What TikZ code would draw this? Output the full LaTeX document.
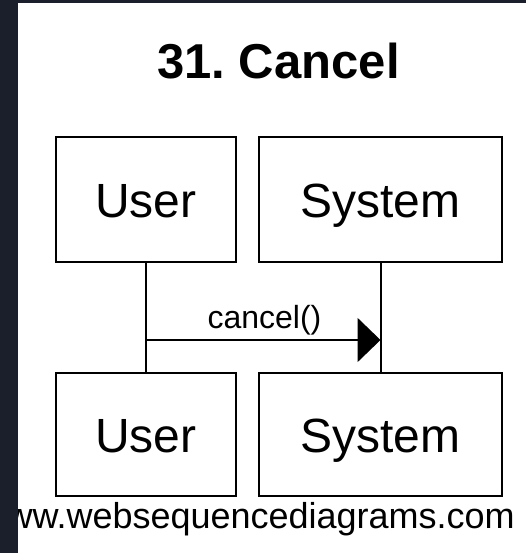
\documentclass[tikz,border=0pt]{standalone}
\usepackage{fontspec}
\setmainfont{Liberation Sans}
\usetikzlibrary{arrows.meta}
\definecolor{darkbg}{RGB}{27,31,44}
\frenchspacing
\begin{document}
\begin{tikzpicture}[x=1pt,y=-1pt,
  actor/.style={draw=black,line width=2pt,fill=white,inner sep=0pt,font=\fontsize{48}{56}\selectfont,minimum height=124pt,text height=35pt,text depth=0pt},
  life/.style={line width=2pt},
  msg/.style={line width=2pt,-{Triangle[length=23pt,width=44pt]}},
  lbl/.style={inner sep=0pt,font=\fontsize{32}{38}\selectfont}]
\useasboundingbox (0,0) rectangle (526,553);
\fill[darkbg] (0,0) rectangle (526,553);
\fill[white] (18,3) rectangle (526,553);
\node[inner sep=0pt,anchor=base,font=\fontsize{49}{56}\selectfont\bfseries] (title) at (278.5,79) {31. Cancel};
\node[actor,minimum width=180pt] (ut) at (146,199.5) {User};
\node[actor,minimum width=243pt] (st) at (380.5,199.5) {System};
\node[actor,minimum width=180pt,minimum height=123pt] (ub) at (146,434.5) {User};
\node[actor,minimum width=243pt,minimum height=123pt] (sb) at (380.5,434.5) {System};
\draw[life] (ut.south) -- (ub.north);
\draw[life] (st.south) -- (sb.north);
\coordinate (m1s) at (ut.south |- 0,340);
\coordinate (m1e) at (st.south |- 0,340);
\draw[msg] (m1s) -- (m1e);
\node[lbl,anchor=base] (m1l) at (264.5,328.5) {cancel()};
\node[inner sep=0pt,anchor=base east,font=\fontsize{36}{42}\selectfont] (foot) at (515,528) {www.websequencediagrams.com};
\fill[darkbg] (0,0) rectangle (18,553);
\end{tikzpicture}
\end{document}
